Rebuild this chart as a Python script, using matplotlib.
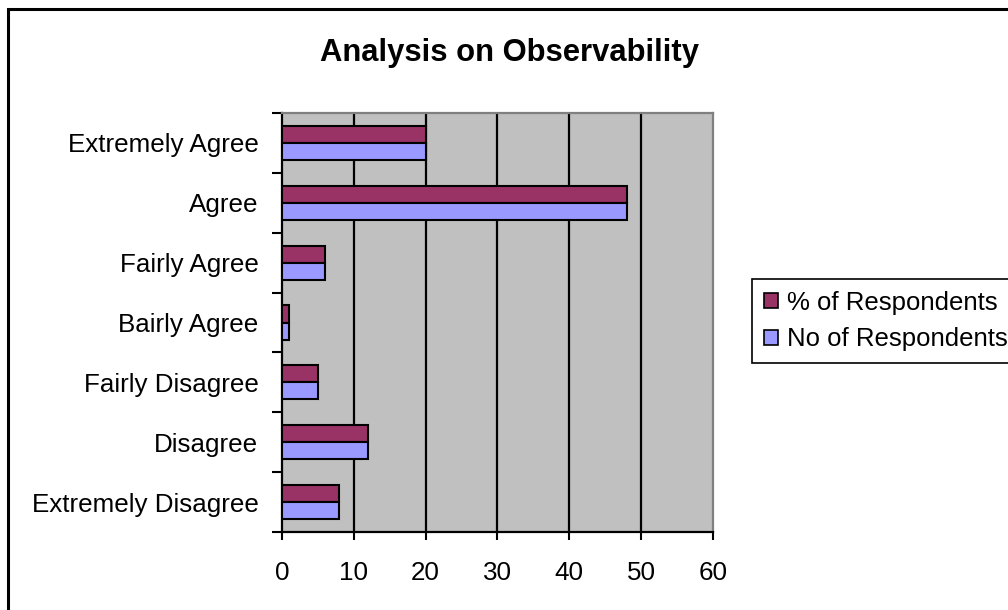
import numpy as np
import matplotlib
matplotlib.use("Agg")
import matplotlib.pyplot as plt
from matplotlib.patches import Rectangle, Patch

categories = ["Extremely Agree", "Agree", "Fairly Agree", "Bairly Agree",
              "Fairly Disagree", "Disagree", "Extremely Disagree"]
pct_respondents = [20, 48, 6, 1, 5, 12, 8]
no_respondents = [20, 48, 6, 1, 5, 12, 8]
series_names = ["% of Respondents", "No of Respondents"]
x_ticks = [0, 10, 20, 30, 40, 50, 60]

plt.rcParams['font.family'] = ['Liberation Sans', 'DejaVu Sans']

W, H = 1008, 610
fig = plt.figure(figsize=(W / 100, H / 100), dpi=100)
fig.patch.set_facecolor("white")

# chart area frame (right/bottom run off the image)
fig.patches.append(Rectangle((8 / W, -0.1), 2.0, 1.1 - 9 / H,
                             transform=fig.transFigure, fill=False,
                             edgecolor="black", linewidth=2.2))

ax = fig.add_axes([282 / W, 1 - 532 / H, (713 - 282) / W, (532 - 113) / H])
ax.set_facecolor("#C0C0C0")

n = len(categories)
y = np.arange(n)
bh = 0.285
ax.barh(y - bh / 2, pct_respondents, height=bh, color="#993366",
        edgecolor="black", linewidth=1.5, zorder=3)
ax.barh(y + bh / 2, no_respondents, height=bh, color="#9999FF",
        edgecolor="black", linewidth=1.5, zorder=3)

ax.set_ylim(n - 0.5, -0.5)
ax.set_xlim(0, 60)
ax.set_xticks(x_ticks)
ax.set_xticklabels([str(t) for t in x_ticks], fontsize=18.7)
ax.tick_params(axis="x", length=6, width=1.5, pad=15, direction="out")

ax.set_yticks(y)
ax.set_yticklabels(categories, fontsize=18.7)
ax.set_yticks(np.arange(n + 1) - 0.5, minor=True)
ax.tick_params(axis="y", which="major", length=0, pad=17)
ax.tick_params(axis="y", which="minor", length=7, width=1.5, direction="out")

for v in x_ticks[1:-1]:
    ax.axvline(v, color="black", linewidth=1.6, zorder=1)

for side in ("left", "bottom"):
    ax.spines[side].set_color("black")
    ax.spines[side].set_linewidth(1.6)
for side in ("top", "right"):
    ax.spines[side].set_color("#808080")
    ax.spines[side].set_linewidth(1.6)

fig.text(510 / W, 1 - 52.5 / H, "Analysis on Observability", fontsize=22.3,
         fontweight="bold", ha="center", va="center")

handles = [Patch(facecolor="#993366", edgecolor="black", linewidth=1.2),
           Patch(facecolor="#9999FF", edgecolor="black", linewidth=1.2)]
leg = fig.legend(handles, series_names, loc="upper left",
                 bbox_to_anchor=(752 / W, 1 - 279 / H), fontsize=18.5,
                 frameon=True, fancybox=False, framealpha=1,
                 edgecolor="black", handlelength=0.55, handleheight=0.55,
                 handletextpad=0.35, borderpad=0.45, labelspacing=0.5,
                 borderaxespad=0)
leg.get_frame().set_linewidth(1.2)

fig.savefig("out.png", dpi=100)
